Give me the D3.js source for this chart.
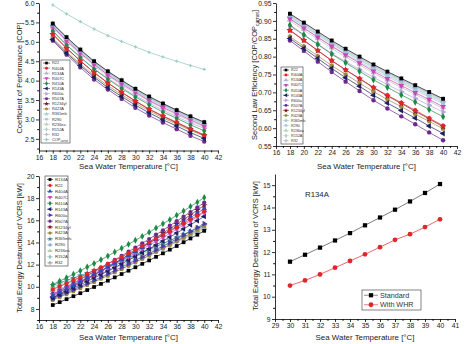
<!DOCTYPE html>
<html>
<head>
<meta charset="utf-8">
<script src="https://cdn.jsdelivr.net/npm/d3@7"></script>
<style>
body{margin:0;background:#fff;}
svg{display:block;font-family:"Liberation Sans",Arial,sans-serif;}
</style>
</head>
<body>
<svg id="chart" width="474" height="344"></svg>
<script>
// ---- data ----
const tempsEven = [18,20,22,24,26,28,30,32,34,36,38,40];
const tempsAll = [18,19,20,21,22,23,24,25,26,27,28,29,30,31,32,33,34,35,36,37,38,39,40];
const tempsWHR = [30,31,32,33,34,35,36,37,38,39,40];

const refsTop = ['R22','R404A','R134A','R407C','R410A','R143A','R600a','R507A','R1234yf','R423A','R365mfc','R290','R236ea','R152A','R32'];
const refsBottom = ['R134A','R22','R404A','R407C','R410A','R143A','R600a','R507A','R1234yf','R423A','R365mfc','R290','R236ea','R152A','R32'];

const copCarnot = [5.95,5.72,5.52,5.33,5.16,5.01,4.87,4.73,4.61,4.50,4.39,4.29];

// COP, same order as refsTop
const copValues = [
  [5.47,5.12,4.80,4.50,4.24,4.01,3.79,3.59,3.41,3.24,3.08,2.93],
  [5.19,4.83,4.51,4.21,3.94,3.70,3.48,3.27,3.09,2.93,2.76,2.60],
  [5.44,5.09,4.77,4.48,4.22,3.99,3.76,3.57,3.39,3.22,3.06,2.91],
  [5.39,5.03,4.71,4.42,4.15,3.92,3.70,3.49,3.31,3.15,2.99,2.83],
  [5.28,4.92,4.60,4.30,4.04,3.80,3.58,3.38,3.19,3.03,2.86,2.71],
  [5.06,4.71,4.39,4.09,3.82,3.59,3.37,3.17,2.99,2.83,2.66,2.51],
  [5.27,4.92,4.61,4.31,4.06,3.83,3.61,3.42,3.24,3.07,2.91,2.77],
  [5.03,4.67,4.34,4.03,3.77,3.53,3.30,3.10,2.92,2.75,2.58,2.43],
  [5.20,4.84,4.51,4.21,3.94,3.70,3.47,3.26,3.08,2.91,2.75,2.59],
  [5.09,4.74,4.43,4.13,3.87,3.64,3.42,3.22,3.04,2.88,2.72,2.57],
  [5.41,5.06,4.75,4.45,4.19,3.96,3.74,3.54,3.36,3.20,3.03,2.88],
  [5.38,5.03,4.72,4.42,4.16,3.94,3.72,3.52,3.34,3.18,3.02,2.87],
  [5.43,5.07,4.76,4.46,4.20,3.97,3.75,3.55,3.37,3.21,3.05,2.90],
  [5.46,5.11,4.79,4.49,4.23,4.00,3.78,3.58,3.40,3.23,3.07,2.92],
  [5.36,5.00,4.69,4.39,4.12,3.89,3.67,3.47,3.29,3.12,2.96,2.81]
];

// second law efficiency, same order as refsTop
const effValues = [
  [0.920,0.895,0.870,0.845,0.822,0.800,0.778,0.758,0.739,0.720,0.701,0.682],
  [0.873,0.845,0.817,0.789,0.763,0.739,0.714,0.692,0.671,0.650,0.628,0.607],
  [0.915,0.890,0.865,0.840,0.817,0.796,0.773,0.754,0.735,0.716,0.697,0.678],
  [0.906,0.880,0.854,0.829,0.805,0.782,0.759,0.738,0.719,0.699,0.680,0.660],
  [0.888,0.861,0.834,0.807,0.783,0.759,0.735,0.714,0.693,0.673,0.652,0.632],
  [0.851,0.823,0.795,0.767,0.741,0.717,0.692,0.670,0.649,0.628,0.606,0.585],
  [0.885,0.860,0.835,0.809,0.786,0.764,0.742,0.722,0.702,0.683,0.664,0.645],
  [0.845,0.816,0.786,0.757,0.730,0.704,0.678,0.655,0.633,0.611,0.588,0.566],
  [0.874,0.846,0.817,0.789,0.763,0.738,0.713,0.690,0.669,0.647,0.626,0.604],
  [0.856,0.829,0.802,0.775,0.750,0.726,0.702,0.680,0.660,0.639,0.619,0.598],
  [0.910,0.885,0.860,0.835,0.812,0.790,0.768,0.748,0.729,0.710,0.691,0.672],
  [0.905,0.880,0.855,0.830,0.807,0.786,0.763,0.744,0.725,0.706,0.687,0.668],
  [0.912,0.887,0.862,0.837,0.814,0.793,0.770,0.751,0.732,0.713,0.694,0.675],
  [0.918,0.893,0.868,0.843,0.820,0.798,0.776,0.756,0.737,0.718,0.699,0.680],
  [0.900,0.874,0.849,0.823,0.799,0.777,0.754,0.733,0.714,0.694,0.675,0.655]
];

// total exergy destruction [kW], same order as refsBottom
const exdValues = [
  [8.35,8.61,8.88,9.15,9.42,9.70,9.98,10.26,10.55,10.85,11.15,11.45,11.76,12.07,12.38,12.70,13.02,13.35,13.68,14.02,14.36,14.70,15.05],
  [9.75,10.03,10.30,10.59,10.87,11.17,11.46,11.76,12.07,12.38,12.69,13.01,13.33,13.66,13.99,14.33,14.67,15.01,15.36,15.71,16.07,16.43,16.80],
  [9.20,9.51,9.82,10.13,10.45,10.78,11.11,11.44,11.78,12.13,12.48,12.83,13.19,13.55,13.92,14.30,14.68,15.06,15.45,15.84,16.24,16.64,17.05],
  [9.30,9.59,9.88,10.18,10.48,10.79,11.10,11.41,11.73,12.06,12.39,12.72,13.06,13.41,13.75,14.10,14.46,14.82,15.19,15.56,15.94,16.32,16.70],
  [10.20,10.51,10.82,11.13,11.45,11.78,12.11,12.44,12.78,13.13,13.48,13.83,14.19,14.55,14.92,15.30,15.68,16.06,16.45,16.84,17.24,17.64,18.05],
  [9.00,9.29,9.58,9.87,10.17,10.48,10.79,11.10,11.42,11.74,12.07,12.40,12.74,13.08,13.42,13.77,14.13,14.49,14.85,15.22,15.59,15.97,16.35],
  [8.95,9.21,9.48,9.75,10.03,10.31,10.59,10.88,11.17,11.47,11.77,12.07,12.38,12.69,13.01,13.33,13.66,13.99,14.32,14.66,15.00,15.35,15.70],
  [9.35,9.67,10.00,10.33,10.67,11.01,11.36,11.71,12.06,12.43,12.79,13.17,13.54,13.93,14.31,14.71,15.10,15.51,15.92,16.33,16.75,17.17,17.60],
  [9.05,9.37,9.70,10.04,10.37,10.72,11.07,11.42,11.78,12.14,12.51,12.89,13.27,13.65,14.04,14.44,14.84,15.25,15.66,16.07,16.49,16.92,17.35],
  [8.80,9.06,9.33,9.60,9.87,10.15,10.43,10.71,11.00,11.30,11.60,11.90,12.21,12.52,12.83,13.15,13.47,13.80,14.13,14.47,14.81,15.15,15.50],
  [10.15,10.36,10.57,10.79,11.01,11.24,11.46,11.69,11.93,12.16,12.40,12.65,12.89,13.15,13.40,13.66,13.92,14.18,14.45,14.72,14.99,15.27,15.55],
  [8.90,9.15,9.41,9.67,9.94,10.21,10.48,10.76,11.04,11.32,11.61,11.91,12.20,12.51,12.81,13.12,13.43,13.75,14.07,14.40,14.73,15.06,15.40],
  [10.00,10.21,10.42,10.63,10.85,11.07,11.29,11.51,11.74,11.98,12.21,12.45,12.69,12.94,13.19,13.44,13.70,13.96,14.22,14.48,14.75,15.03,15.30],
  [9.85,10.07,10.30,10.53,10.77,11.01,11.25,11.49,11.74,11.99,12.25,12.51,12.77,13.04,13.31,13.58,13.86,14.14,14.43,14.72,15.01,15.30,15.60],
  [9.60,9.82,10.04,10.27,10.49,10.73,10.96,11.20,11.44,11.69,11.94,12.19,12.45,12.71,12.97,13.24,13.51,13.78,14.06,14.34,14.62,14.91,15.20]
];

const whrNames = ['Standard','With WHR'];
const exdStandard = [11.57,11.88,12.20,12.52,12.85,13.20,13.55,13.90,14.27,14.65,15.05];
const exdWithWHR = [10.50,10.73,11.00,11.30,11.60,11.90,12.22,12.55,12.80,13.12,13.47];

// ---- styles (by legend position) ----
const colorsTop = ['#000000','#e0262b','#a9b4dd','#cc44bb','#1f8a45','#1c2060','#b3a3de','#6b2a8c','#7c1426','#a08838','#9ccad0','#b5c2e0','#b8d2b8','#b4d0cc','#bdbdbd'];
const colorsBottom = ['#000000','#e0262b','#3048b8','#cc44bb','#1f8a45','#1c2060','#4b3aa8','#6b2a8c','#7c1426','#a08838','#3c8494','#8eaadb','#a8cca0','#8ec4bc','#a8a8a8'];
const colorCarnot = '#9ccdc8';

const symbolPentagon = {
  draw(ctx, size){
    const r = Math.sqrt(size/2.378);
    for(let i=0;i<5;i++){
      const a = -Math.PI/2 + i*2*Math.PI/5;
      i ? ctx.lineTo(r*Math.cos(a), r*Math.sin(a)) : ctx.moveTo(r*Math.cos(a), r*Math.sin(a));
    }
    ctx.closePath();
  }
};
// [symbol type, rotation]
const markers = [
  [d3.symbolSquare,0],[d3.symbolCircle,0],[d3.symbolTriangle,0],[d3.symbolTriangle,180],
  [d3.symbolDiamond,0],[d3.symbolTriangle,-90],[d3.symbolTriangle,90],[d3.symbolCircle,0],
  [d3.symbolStar,0],[symbolPentagon,0],[d3.symbolStar,0],[d3.symbolCircle,0],
  [d3.symbolTriangle,0],[d3.symbolDiamond,0],[d3.symbolCross,0]
];

const svg = d3.select('#chart');

function drawPanel(p){
  const g = svg.append('g');
  const x = d3.scaleLinear().domain(p.xDomain).range(p.xRange);
  const y = d3.scaleLinear().domain(p.yDomain).range(p.yRange);

  //minor ticks first
  g.append('g').attr('transform',`translate(0,${p.yRange[0]})`)
    .call(d3.axisBottom(x).tickValues(p.xMinor).tickSize(1.8).tickFormat(''))
    .call(a=>a.select('.domain').remove());
  g.append('g').attr('transform',`translate(${p.xRange[0]},0)`)
    .call(d3.axisLeft(y).tickValues(p.yMinor).tickSize(1.8).tickFormat(''))
    .call(a=>a.select('.domain').remove());

  const xa = g.append('g').attr('transform',`translate(0,${p.yRange[0]})`)
    .call(d3.axisBottom(x).tickValues(p.xTicks).tickSizeInner(3).tickSizeOuter(0).tickPadding(1.5).tickFormat(d3.format('d')));
  const ya = g.append('g').attr('transform',`translate(${p.xRange[0]},0)`)
    .call(d3.axisLeft(y).tickValues(p.yTicks).tickSizeInner(3).tickSizeOuter(0).tickPadding(1.5).tickFormat(p.yFormat));
  [xa,ya].forEach(a=>{
    a.attr('font-family',null).attr('font-size',6.8);
    a.selectAll('line,path').attr('stroke','#000').attr('stroke-width',0.8);
    a.selectAll('text').attr('fill','#222');
  });

  g.append('text')
    .attr('x',(p.xRange[0]+p.xRange[1])/2).attr('y',p.xLabelY)
    .attr('text-anchor','middle').attr('font-size',7.9).attr('fill','#222')
    .text('Sea Water Temperature [°C]');
  const yl = g.append('text')
    .attr('transform',`translate(${p.yLabelX},${p.yLabelMid}) rotate(-90)`)
    .attr('text-anchor','middle').attr('font-size',7.5).attr('fill','#222');
  p.yLabel(yl);

  const line = d3.line().x(d=>x(d[0])).y(d=>y(d[1]));
  p.series.forEach(s=>{
    const pts = s.xs.map((t,i)=>[t,s.ys[i]]);
    g.append('path').datum(pts)
      .attr('d',line).attr('fill','none')
      .attr('stroke',s.lineColor||s.color).attr('stroke-width',s.lw||0.7);
    g.append('g').selectAll('path').data(pts).enter().append('path')
      .attr('transform',d=>`translate(${x(d[0])},${y(d[1])}) rotate(${s.marker[1]})`)
      .attr('d',d3.symbol().type(s.marker[0]).size(s.size))
      .attr('fill',s.color);
  });

  //legend
  const L = p.legend;
  const lg = g.append('g');
  lg.append('rect').attr('x',L.x).attr('y',L.y).attr('width',L.w).attr('height',L.h)
    .attr('fill','#fff').attr('stroke','#333').attr('stroke-width',0.6);
  L.items.forEach((s,i)=>{
    const cy = L.y + L.pad + (i+0.5)*L.row;
    lg.append('line').attr('x1',L.x+2).attr('x2',L.x+2+L.lineW).attr('y1',cy).attr('y2',cy)
      .attr('stroke',s.lineColor||s.color).attr('stroke-width',0.6);
    lg.append('path')
      .attr('transform',`translate(${L.x+2+L.lineW/2},${cy}) rotate(${s.marker[1]})`)
      .attr('d',d3.symbol().type(s.marker[0]).size(L.msize))
      .attr('fill',s.color);
    const t = lg.append('text').attr('x',L.x+4+L.lineW).attr('y',cy+L.font*0.35)
      .attr('font-size',L.font).attr('fill','#333');
    if(s.sub){
      t.text(s.name);
      t.append('tspan').attr('font-size',L.font*0.7).attr('dy',L.font*0.3).text(s.sub);
    } else t.text(s.name);
  });
  return {g,x,y};
}

// ---- panel 1: COP ----
const seriesCop = refsTop.map((r,i)=>({name:r,xs:tempsEven,ys:copValues[i],color:colorsTop[i],marker:markers[i],size:15}));
const carnotSeries = {name:'COP',sub:'carnot',xs:tempsEven,ys:copCarnot,color:colorCarnot,marker:[d3.symbolCross,0],size:6,lw:0.8};
drawPanel({
  xDomain:[16,42], xRange:[39,218], yDomain:[2.2,6.0], yRange:[150.5,3],
  xTicks:d3.range(16,43,2), xMinor:d3.range(17,42,2),
  yTicks:d3.range(2.5,6.01,0.5), yMinor:d3.range(2.25,6,0.5), yFormat:d3.format('.1f'),
  xLabelY:169, yLabelX:22, yLabelMid:78,
  yLabel:t=>t.text('Coefficient of Performance [COP]'),
  series:[carnotSeries].concat(seriesCop.slice().reverse()),
  legend:{x:41,y:60,w:29,h:83,pad:0.5,row:5.1,lineW:7,font:3.9,msize:7,items:seriesCop.concat([carnotSeries])}
});

// ---- panel 2: second law efficiency ----
const seriesEff = refsTop.map((r,i)=>({name:r,xs:tempsEven,ys:effValues[i],color:colorsTop[i],marker:markers[i],size:15}));
drawPanel({
  xDomain:[16,42], xRange:[276,457], yDomain:[0.55,0.95], yRange:[146,3],
  xTicks:d3.range(16,43,2), xMinor:d3.range(17,42,2),
  yTicks:d3.range(0.55,0.951,0.05), yMinor:d3.range(0.575,0.95,0.05), yFormat:d3.format('.2f'),
  xLabelY:169, yLabelX:257, yLabelMid:75,
  yLabel:t=>{
    t.text('Second Law Efficiency [COP/COP');
    t.append('tspan').attr('font-size',5).attr('dy',1.8).text('carnot');
    t.append('tspan').attr('dy',-1.8).text(']');
  },
  series:seriesEff.slice().reverse(),
  legend:{x:281,y:67,w:22,h:77,pad:0.5,row:5.05,lineW:6,font:3.7,msize:7,items:seriesEff}
});

// ---- panel 3: total exergy destruction ----
const seriesExd = refsBottom.map((r,i)=>({name:r,xs:tempsAll,ys:exdValues[i],color:colorsBottom[i],marker:markers[i],size:14}));
drawPanel({
  xDomain:[16,42], xRange:[39,218], yDomain:[7,20], yRange:[320,176],
  xTicks:d3.range(16,43,2), xMinor:d3.range(17,42,2),
  yTicks:d3.range(8,20.1,2), yMinor:d3.range(7,20,2), yFormat:d3.format('d'),
  xLabelY:340, yLabelX:22, yLabelMid:248,
  yLabel:t=>t.text('Total Exergy Destruction of VCRS [kW]'),
  series:seriesExd.slice().reverse(),
  legend:{x:45,y:176,w:23,h:90,pad:0.5,row:5.95,lineW:6,font:4.2,msize:8,items:seriesExd}
});

// ---- panel 4: R134A with / without WHR ----
const seriesWHR = [
  {name:whrNames[0],xs:tempsWHR,ys:exdStandard,color:'#000',lineColor:'#444',marker:markers[0],size:18,lw:0.7},
  {name:whrNames[1],xs:tempsWHR,ys:exdWithWHR,color:'#e0262b',lineColor:'#e0262b',marker:markers[1],size:18,lw:0.7}
];
const p4 = drawPanel({
  xDomain:[29,41], xRange:[275,455], yDomain:[9,15.5], yRange:[319,174],
  xTicks:d3.range(29,41.1,1), xMinor:d3.range(29.5,41,1),
  yTicks:d3.range(9,15.1,1), yMinor:d3.range(9.5,15.5,1), yFormat:d3.format('d'),
  xLabelY:340, yLabelX:258, yLabelMid:246,
  yLabel:t=>t.text('Total Exergy Destruction of VCRS [kW]'),
  series:seriesWHR,
  legend:{x:362,y:290,w:59,h:20,pad:0.5,row:9.5,lineW:14,font:7.2,msize:18,items:seriesWHR}
});
p4.g.append('text').attr('x',p4.x(31)).attr('y',p4.y(14.45))
  .attr('font-size',7.8).attr('fill','#222').text('R134A');
</script>
</body>
</html>
